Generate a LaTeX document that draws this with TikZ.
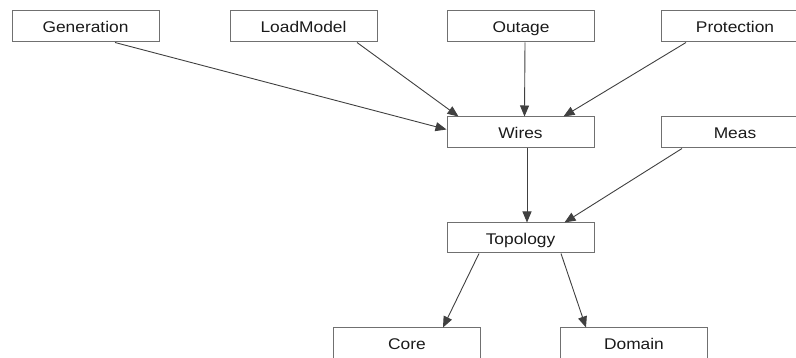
\documentclass[tikz,border=0pt]{standalone}
\usepackage{fontspec}
\usepackage{graphicx}
\setmainfont{Liberation Sans}
\usetikzlibrary{arrows.meta,calc}
\definecolor{boxline}{HTML}{707070}
\definecolor{edgeline}{HTML}{404040}
\definecolor{labeltext}{HTML}{1A1A1A}
\newcommand{\widelabel}[1]{\scalebox{1.12}[1]{#1}}
\tikzset{
  module/.style={draw=boxline, line width=1pt, minimum width=147pt, minimum height=31pt,
    inner sep=0pt, text height=13pt, text depth=0pt, text=labeltext,
    font=\fontsize{15.5}{18}\selectfont},
  dep/.style={draw=edgeline, line width=0.9pt,
    -{Triangle[length=11pt,width=9pt]}}
}
\begin{document}
\begin{tikzpicture}[x=1pt,y=-1pt]
  \useasboundingbox (0,0) rectangle (796,358);
  \begin{scope}
  \clip (0,0) rectangle (796,358);
  % top row
  \node[module] (gen)  at (85.5,26.5) {\widelabel{Generation}};
  \node[module] (load) at (303.5,26.5) {\widelabel{LoadModel}};
  \node[module] (out)  at (521,26.5) {\widelabel{Outage}};
  \node[module] (prot) at (735,26.5) {\widelabel{Protection}};
  % middle rows
  \node[module] (wires) at (520.5,132.5) {\widelabel{Wires}};
  \node[module] (meas)  at (735,132.5) {\widelabel{Meas}};
  \node[module, minimum height=30pt] (topo) at (520.5,238) {\widelabel{Topology}};
  % bottom row
  \node[module] (core) at (407,343.5) {\widelabel{Core}};
  \node[module] (dom)  at (634,343.5) {\widelabel{Domain}};
  \end{scope}
  % dependencies
  \draw[dep] ($(gen.south)+(29.5,0)$) -- ($(wires.west)+(0,-3)$);
  \draw[dep] ($(load.south)+(53.5,0)$) -- ($(wires.north)+(-62,0)$);
  \draw[dep] ($(out.south)+(4,0)$) -- ($(wires.north)+(4,0)$);
  \draw[dep] ($(prot.south)+(-49,0)$) -- ($(wires.north)+(43,0)$);
  \draw[dep] ($(wires.south)+(6.5,0)$) -- ($(topo.north)+(6.5,0)$);
  \draw[dep] ($(meas.south)+(-53,0)$) -- ($(topo.north)+(44,0)$);
  \draw[dep] ($(topo.south)+(-41.5,0)$) -- ($(core.north)+(36,0)$);
  \draw[dep] ($(topo.south)+(40.5,0)$) -- ($(dom.north)+(-48,0)$);
\end{tikzpicture}
\end{document}
